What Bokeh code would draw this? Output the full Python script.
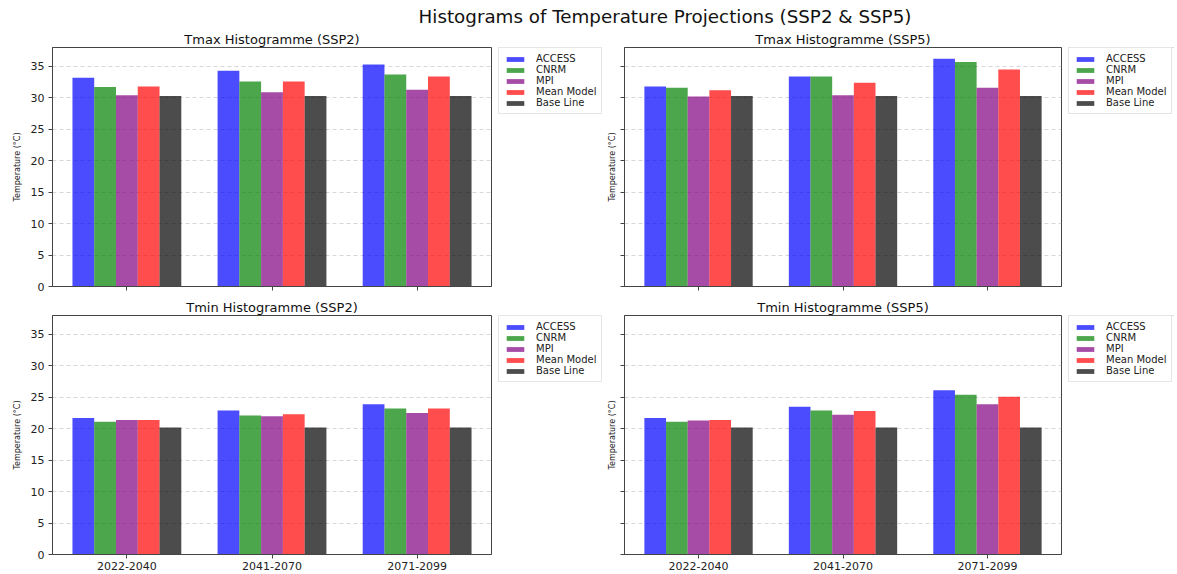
import html
from bokeh.plotting import figure
from bokeh.models import (ColumnDataSource, Legend, LegendItem,
                          FixedTicker, Div, Range1d)
from bokeh.transform import dodge
from bokeh.layouts import column, row
from bokeh.embed import file_html
from bokeh.resources import INLINE

# ---------------- data ----------------
periods = ["2022-2040", "2041-2070", "2071-2099"]
models = ["ACCESS", "CNRM", "MPI", "Mean Model", "Base Line"]
model_colors = ["blue", "green", "purple", "red", "black"]

# Tmax SSP2
access_tmax_ssp2 = [33.2, 34.3, 35.3]
cnrm_tmax_ssp2 = [31.7, 32.6, 33.7]
mpi_tmax_ssp2 = [30.4, 30.9, 31.3]
mean_tmax_ssp2 = [31.8, 32.6, 33.4]
base_tmax_ssp2 = [30.3, 30.3, 30.3]

# Tmax SSP5
access_tmax_ssp5 = [31.8, 33.4, 36.2]
cnrm_tmax_ssp5 = [31.6, 33.4, 35.7]
mpi_tmax_ssp5 = [30.2, 30.4, 31.6]
mean_tmax_ssp5 = [31.2, 32.4, 34.5]
base_tmax_ssp5 = [30.3, 30.3, 30.3]

# Tmin SSP2
access_tmin_ssp2 = [21.7, 22.9, 23.9]
cnrm_tmin_ssp2 = [21.1, 22.1, 23.2]
mpi_tmin_ssp2 = [21.4, 22.0, 22.5]
mean_tmin_ssp2 = [21.4, 22.3, 23.2]
base_tmin_ssp2 = [20.2, 20.2, 20.2]

# Tmin SSP5
access_tmin_ssp5 = [21.7, 23.5, 26.1]
cnrm_tmin_ssp5 = [21.1, 22.9, 25.4]
mpi_tmin_ssp5 = [21.3, 22.2, 23.9]
mean_tmin_ssp5 = [21.4, 22.8, 25.1]
base_tmin_ssp5 = [20.2, 20.2, 20.2]

y_ticks = [0, 5, 10, 15, 20, 25, 30, 35]
y_max = 38

FONT = "DejaVu Sans"
BAR_W = 0.15
offsets = [-0.3, -0.15, 0.0, 0.15, 0.3]
group_idx = list(range(len(periods)))
x_lo = -2.5 * BAR_W - 0.05 * (len(periods) - 1 + 5 * BAR_W)
x_hi = len(periods) - 1 + 2.5 * BAR_W + 0.05 * (len(periods) - 1 + 5 * BAR_W)


def make_panel(title, series, first_col, bottom_row):
    src = ColumnDataSource(dict(g=group_idx,
                                **{f"m{i}": v for i, v in enumerate(series)}))
    height = 278 if bottom_row else 268
    p = figure(x_range=Range1d(x_lo, x_hi), y_range=Range1d(0, y_max),
               width=492 if first_col else 460, height=height,
               output_backend="svg", toolbar_location=None,
               title=title,
               min_border_left=52 if first_col else 22,
               min_border_right=1, min_border_top=0,
               min_border_bottom=2 if bottom_row else 8)
    p.background_fill_color = "white"
    p.border_fill_color = "white"
    p.outline_line_color = "#444444"
    p.outline_line_width = 1

    # legend holder figure (its bars lie outside its visible range)
    lg = figure(x_range=Range1d(0, 1), y_range=Range1d(-2, -1),
                width=110 if first_col else 112, height=height,
                output_backend="svg", toolbar_location=None,
                x_axis_location=None, y_axis_location=None,
                min_border_left=6, min_border_top=21,
                min_border_right=0, min_border_bottom=0)
    lg.outline_line_color = None
    lg.grid.visible = False

    items = []
    for i, (name, col) in enumerate(zip(models, model_colors)):
        p.vbar(x=dodge("g", offsets[i]), top=f"m{i}", width=BAR_W,
               source=src, fill_color=col, fill_alpha=0.7, line_color=None)
        r = lg.vbar(x=dodge("g", offsets[i]), top=f"m{i}", width=BAR_W,
                    source=src, fill_color=col, fill_alpha=0.7,
                    line_color=None)
        items.append(LegendItem(label=name, renderers=[r]))

    leg = Legend(items=items, location="top_left",
                 label_text_font=FONT, label_text_font_size="10px",
                 label_text_color="#222222",
                 glyph_width=22, glyph_height=6, label_height=10,
                 label_standoff=10, spacing=0, padding=5, margin=0,
                 border_line_color="#cccccc", border_line_width=1,
                 background_fill_alpha=1.0)
    lg.add_layout(leg, "center")

    p.title.text_font = FONT
    p.title.text_font_size = "13px"
    p.title.text_font_style = "normal"
    p.title.text_color = "#111111"
    p.title.align = "center"
    p.title.standoff = 2

    p.xgrid.grid_line_color = None
    p.ygrid.grid_line_color = "#c0c0c0"
    p.ygrid.grid_line_dash = "4 3"
    p.ygrid.grid_line_alpha = 0.8
    p.ygrid.grid_line_width = 0.8

    p.yaxis.ticker = FixedTicker(ticks=y_ticks)
    p.yaxis.minor_tick_line_color = None
    p.yaxis.major_tick_out = 4
    p.yaxis.major_tick_in = 0
    p.yaxis.axis_label = "Temperature (°C)"
    p.yaxis.axis_label_text_font = FONT
    p.yaxis.axis_label_text_font_size = "8px"
    p.yaxis.axis_label_text_font_style = "normal"
    p.yaxis.axis_label_text_color = "#222222"
    p.yaxis.major_label_text_font = FONT
    p.yaxis.major_label_text_font_size = "11px"
    p.yaxis.major_label_text_color = "#222222"
    if first_col:
        p.yaxis.major_label_standoff = 4
        p.yaxis.axis_label_standoff = 6
    else:
        p.yaxis.major_label_overrides = {t: "" for t in y_ticks}
        p.yaxis.major_label_standoff = 0
        p.yaxis.axis_label_standoff = 4

    for ax in (p.xaxis, p.yaxis):
        ax.axis_line_color = "#444444"
        ax.major_tick_line_color = "#444444"

    p.xaxis.ticker = FixedTicker(ticks=group_idx)
    p.xaxis.major_tick_out = 4
    p.xaxis.major_tick_in = 0
    p.xaxis.minor_tick_line_color = None
    p.xaxis.major_label_text_font = FONT
    p.xaxis.major_label_text_font_size = "11px"
    p.xaxis.major_label_text_color = "#222222"
    p.xaxis.major_label_standoff = 3
    if bottom_row:
        p.xaxis.major_label_overrides = dict(zip(group_idx, periods))
    else:
        p.xaxis.major_label_overrides = {g: "" for g in group_idx}
    return p, lg


p1, l1 = make_panel("Tmax Histogramme (SSP2)",
                    [access_tmax_ssp2, cnrm_tmax_ssp2, mpi_tmax_ssp2,
                     mean_tmax_ssp2, base_tmax_ssp2], True, False)
p2, l2 = make_panel("Tmax Histogramme (SSP5)",
                    [access_tmax_ssp5, cnrm_tmax_ssp5, mpi_tmax_ssp5,
                     mean_tmax_ssp5, base_tmax_ssp5], False, False)
p3, l3 = make_panel("Tmin Histogramme (SSP2)",
                    [access_tmin_ssp2, cnrm_tmin_ssp2, mpi_tmin_ssp2,
                     mean_tmin_ssp2, base_tmin_ssp2], True, True)
p4, l4 = make_panel("Tmin Histogramme (SSP5)",
                    [access_tmin_ssp5, cnrm_tmin_ssp5, mpi_tmin_ssp5,
                     mean_tmin_ssp5, base_tmin_ssp5], False, True)

title_text = "Histograms of Temperature Projections (SSP2 & SSP5)"
title_div = Div(text=html.escape(title_text), width=560, height=26,
                margin=(0, 0, 0, 665 - 280),
                styles={"font-family": FONT, "font-size": "18.3px",
                        "color": "#111111", "text-align": "center",
                        "line-height": "34px", "white-space": "nowrap"})

layout = column(title_div,
                row(p1, l1, p2, l2, spacing=0),
                row(p3, l3, p4, l4, spacing=0),
                spacing=0)

with open("out.html", "w") as f:
    f.write(file_html(layout, INLINE))
